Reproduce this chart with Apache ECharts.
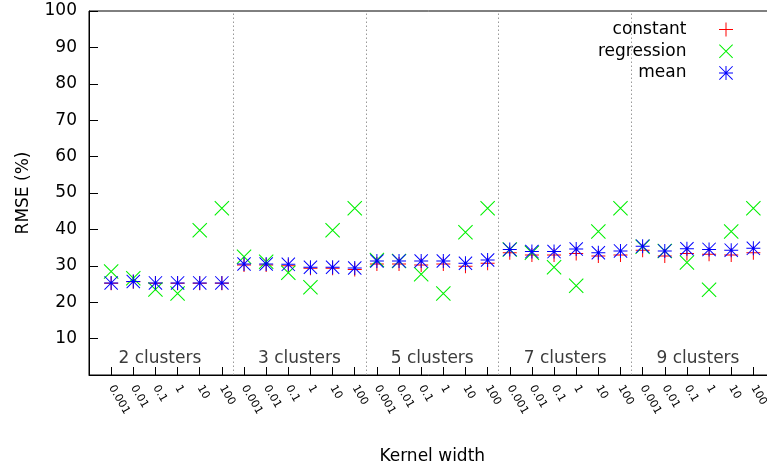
<!DOCTYPE html>
<html>
<head>
<meta charset="utf-8">
<script src="https://cdn.jsdelivr.net/npm/echarts@6/dist/echarts.min.js"></script>
<style>html,body{margin:0;padding:0;background:#fff;}#c{width:767px;height:468px;}</style>
</head>
<body>
<div id="c"></div>
<script>
// ---- data ----
const kernelWidths = ['0.001', '0.01', '0.1', '1', '10', '100'];
const groups = ['2 clusters', '3 clusters', '5 clusters', '7 clusters', '9 clusters'];
const seriesNames = ['constant', 'regression', 'mean'];
const constantVals = [
  25.2, 25.6, 25.2, 25.2, 25.2, 25.2,
  30.2, 30.2, 30.0, 29.3, 29.3, 29.0,
  30.5, 30.5, 30.2, 30.5, 29.9, 30.7,
  33.6, 33.0, 33.0, 33.4, 32.7, 33.0,
  34.3, 32.7, 33.4, 33.2, 33.0, 33.6
];
const regressionVals = [
  28.4, 26.6, 23.5, 22.4, 39.8, 45.8,
  32.5, 31.1, 28.1, 24.1, 39.8, 45.8,
  31.6, 31.3, 27.7, 22.4, 39.2, 45.8,
  34.5, 33.6, 29.6, 24.5, 39.4, 45.8,
  35.2, 34.1, 30.9, 23.4, 39.4, 45.8
];
const meanVals = [
  25.3, 25.7, 25.3, 25.3, 25.3, 25.3,
  30.5, 30.5, 30.4, 29.6, 29.6, 29.4,
  31.3, 31.3, 31.3, 31.3, 30.7, 31.6,
  34.5, 33.9, 33.9, 34.6, 33.6, 34.1,
  35.4, 34.1, 34.7, 34.5, 34.3, 34.8
];

// ---- rendering ----
const FONT = 'DejaVu Sans';
const plusPath = 'path://M0,6.5H14V7.5H0Z M6.5,0H7.5V14H6.5Z';
const crossPath = 'path://M0,0.7L0.7,0L14,13.3L13.3,14Z M14,0.7L0.7,14L0,13.3L13.3,0Z';
const starPath = 'path://M0,6.5H14V7.5H0Z M6.5,0H7.5V14H6.5Z M0,0.7L0.7,0L14,13.3L13.3,14Z M14,0.7L0.7,14L0,13.3L13.3,0Z';
const colors = ['#ff0000', '#00f000', '#0000ff'];
const icons = [plusPath, crossPath, starPath];
const sizes = [14, 15, 14];
const n = kernelWidths.length;
const total = n * groups.length;

const toPts = arr => arr.map((v, i) => [i, v]);
const valueSets = [constantVals, regressionVals, meanVals];

const series = seriesNames.map((name, k) => ({
  name: name,
  type: 'scatter',
  symbol: icons[k],
  symbolSize: sizes[k],
  itemStyle: { color: colors[k], opacity: 1 },
  data: toPts(valueSets[k]),
  z: 3 + k,
  silent: true
}));

// separators + group labels
series.push({
  name: '_labels',
  type: 'scatter',
  symbolSize: 0,
  silent: true,
  data: groups.map((g, i) => ({ name: g, value: [i * n + (n - 1) / 2 - (i === 0 ? 0.3 : 0), 4.6] })),
  label: {
    show: true, position: 'inside', formatter: p => p.name,
    color: '#3c3c3c', fontFamily: FONT, fontSize: 17
  },
  itemStyle: { opacity: 1 },
  markLine: {
    silent: true, symbol: 'none', label: { show: false },
    lineStyle: { color: '#999', type: [1.5, 2.5], width: 1 },
    data: groups.slice(1).map((g, i) => ({ xAxis: (i + 1) * n - 0.5 }))
  },
  z: 1
});

const chart = echarts.init(document.getElementById('c'), null, { renderer: 'canvas' });
chart.setOption({
  animation: false,
  backgroundColor: '#fff',
  textStyle: { fontFamily: FONT },
  grid: {
    left: 89, top: 11, width: 686.5, height: 364,
    outerBoundsMode: 'none', containLabel: false,
    show: true, borderColor: '#000', borderWidth: 1, backgroundColor: 'transparent'
  },
  legend: {
    orient: 'vertical', align: 'right', right: 34, top: 21,
    padding: 0, itemWidth: 69, itemHeight: 14, itemGap: 4.7,
    textStyle: { fontFamily: FONT, fontSize: 17, color: '#000' },
    data: seriesNames.map((s, k) => ({ name: s, icon: icons[k], itemStyle: { color: colors[k] } })),
    selectedMode: false
  },
  xAxis: {
    type: 'value', min: -1, max: total, interval: 1,
    name: 'Kernel width', nameLocation: 'middle', nameGap: 73,
    nameTextStyle: { fontFamily: FONT, fontSize: 17, color: '#000' },
    axisLine: { show: true, onZero: false, lineStyle: { color: '#000', width: 1 } },
    axisTick: { show: true, inside: true, length: 8, lineStyle: { color: '#000' } },
    splitLine: { show: false },
    axisLabel: {
      rotate: -60, margin: 11, fontFamily: FONT, fontSize: 11, color: '#000',
      formatter: v => (v >= 0 && v < total) ? kernelWidths[v % n] : ''
    }
  },
  yAxis: {
    type: 'value', min: 0, max: 100, interval: 10,
    name: 'RMSE (%)', nameLocation: 'middle', nameGap: 57,
    nameTextStyle: { fontFamily: FONT, fontSize: 17, color: '#000' },
    axisLine: { show: true, onZero: false, lineStyle: { color: '#000', width: 1 } },
    axisTick: { show: true, inside: true, length: 9, lineStyle: { color: '#000' } },
    splitLine: { show: false },
    axisLabel: {
      margin: 12, fontFamily: FONT, fontSize: 17, color: '#000',
      formatter: v => v === 0 ? '' : String(v)
    }
  },
  series: series
});
</script>
</body>
</html>
